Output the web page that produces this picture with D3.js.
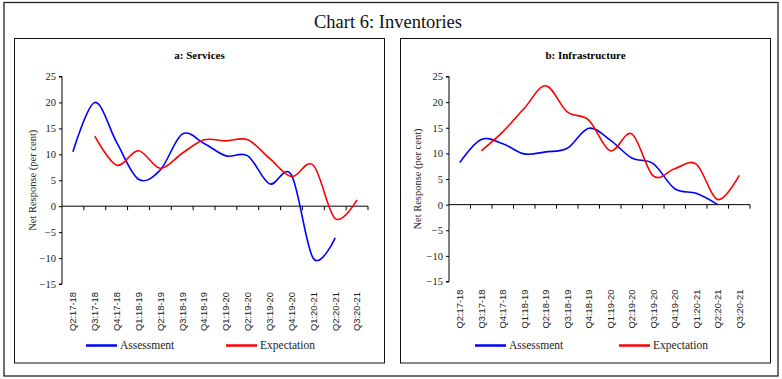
<!DOCTYPE html>
<html><head><meta charset="utf-8">
<script src="https://cdn.jsdelivr.net/npm/d3@7"></script>
<style>body{margin:0;background:#fff}svg{display:block}</style>
</head><body>
<svg id="c" width="782" height="379"></svg>
<script>
const categories = ["Q2:17-18","Q3:17-18","Q4:17-18","Q1:18-19","Q2:18-19","Q3:18-19","Q4:18-19","Q1:19-20","Q2:19-20","Q3:19-20","Q4:19-20","Q1:20-21","Q2:20-21","Q3:20-21"];
const yTicks = [-15,-10,-5,0,5,10,15,20,25];
const servicesAssessment = [10.5,20.0,12.3,5.2,7.0,13.9,12.1,9.7,9.7,4.3,6.0,-10.1,-6.1,null];
const servicesExpectation = [null,13.5,7.9,10.7,7.3,10.2,12.8,12.6,12.8,9.2,5.7,7.9,-2.4,1.2];
const infraAssessment = [8.2,12.7,11.9,9.9,10.3,11.0,14.9,12.6,9.1,8.0,3.1,2.2,0.0,null];
const infraExpectation = [null,10.5,14.2,18.8,23.2,18.1,16.5,10.5,13.8,5.6,7.0,7.9,1.0,5.7];

const svg = d3.select("#c");
const serif = "'Liberation Serif','Times New Roman',serif";
const sans = "'Liberation Sans',Arial,sans-serif";

svg.append("rect").attr("x",4).attr("y",2.5).attr("width",774).attr("height",373.5)
  .attr("fill","none").attr("stroke","#222").attr("stroke-width",1.3);
svg.append("text").attr("x",388).attr("y",28).attr("text-anchor","middle")
  .attr("font-family",serif).attr("font-size",18.5).attr("fill","#111").text("Chart 6: Inventories");

function panel(o){
  const g = svg.append("g");
  g.append("rect").attr("x",o.bx).attr("y",38.5).attr("width",o.bw).attr("height",324.5)
    .attr("fill","none").attr("stroke","#111").attr("stroke-width",1);
  g.append("text").attr("x",o.bx+o.bw/2).attr("y",59).attr("text-anchor","middle")
    .attr("font-family",serif).attr("font-weight","bold").attr("font-size",11).text(o.title);
  const x = d3.scaleBand().domain(categories).range([o.x0,o.x1]).paddingInner(0).paddingOuter(0);
  const y = d3.scaleLinear().domain([-15,25]).range(o.yr);
  const ya = g.append("g").attr("transform",`translate(${o.x0},0)`)
    .call(d3.axisLeft(y).tickValues(yTicks).tickSize(3).tickPadding(3).tickFormat(d3.format("d")));
  ya.select(".domain").attr("stroke","#000").attr("d",`M-3,${y(-15)}H0V${y(25)}H-3`);
  ya.selectAll("text").attr("font-family",serif).attr("font-size",10.5).attr("fill","#222");
  const xa = g.append("g").attr("transform",`translate(0,${y(0)})`);
  xa.append("line").attr("x1",o.x0).attr("x2",o.x1).attr("stroke","#000");
  const bounds = categories.map(c=>x(c)).concat([o.x1]).slice(1);
  xa.selectAll("line.t").data(bounds).enter().append("line").attr("class","t")
    .attr("x1",d=>d).attr("x2",d=>d).attr("y1",0).attr("y2",4).attr("stroke","#000");
  g.selectAll("text.xl").data(categories).enter().append("text").attr("class","xl")
    .attr("transform",d=>`translate(${x(d)+x.bandwidth()/2},${y(-15)+8}) rotate(-90)`)
    .attr("text-anchor","end").attr("dy","0.35em")
    .attr("font-family",sans).attr("font-size",9.4).attr("fill","#222").text(d=>d);
  g.append("text").attr("transform",`translate(${o.tx},${(y(25)+y(-15))/2}) rotate(-90)`)
    .attr("text-anchor","middle").attr("font-family",serif).attr("font-size",10.5).attr("fill","#222")
    .text("Net Response (per cent)");
  const line = d3.line().defined(d=>d.v!=null).x(d=>x(d.c)+x.bandwidth()/2).y(d=>y(d.v))
    .curve(d3.curveCardinal.tension(0));
  [[o.a,"#0000ff"],[o.e,"#ff0000"]].forEach(([arr,col])=>{
    const data = categories.map((c,i)=>({c,v:arr[i]})).filter(d=>d.v!=null);
    g.append("path").datum(data).attr("d",line).attr("fill","none").attr("stroke",col).attr("stroke-width",1.6);
  });
  const ly = 345.5;
  [["Assessment","#0000ff",o.l1],["Expectation","#ff0000",o.l2]].forEach(([t,col,lx])=>{
    g.append("line").attr("x1",lx).attr("x2",lx+31).attr("y1",ly).attr("y2",ly).attr("stroke",col).attr("stroke-width",2.5);
    g.append("text").attr("x",lx+34).attr("y",ly+3.5).attr("font-family",serif).attr("font-size",11.5).attr("fill","#222").text(t);
  });
}
panel({bx:14.5,bw:370,title:"a: Services",x0:62,x1:368,yr:[284,76.5],tx:36,a:servicesAssessment,e:servicesExpectation,l1:86,l2:226});
panel({bx:400.5,bw:370,title:"b: Infrastructure",x0:449,x1:750,yr:[281.5,76.5],tx:421,a:infraAssessment,e:infraExpectation,l1:475,l2:619});
</script>
</body></html>
